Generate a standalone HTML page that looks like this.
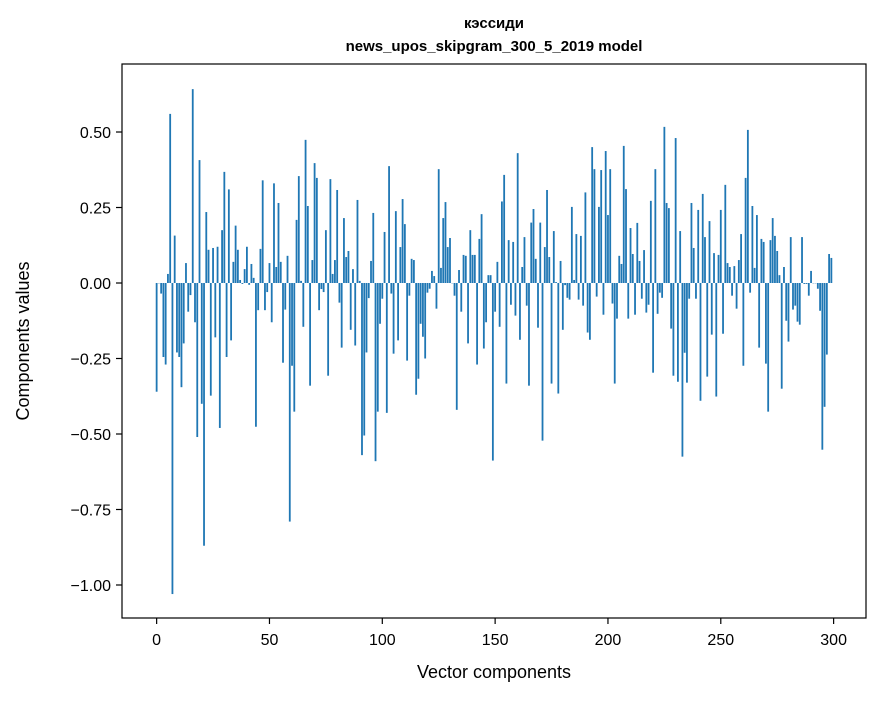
<!DOCTYPE html>
<html><head><meta charset="utf-8"><style>
body{margin:0;background:#fff;}
svg text{font-family:"Liberation Sans","DejaVu Sans",sans-serif;fill:#000;}
</style></head><body>
<svg id="chart" width="880" height="696" viewBox="0 0 880 696" xmlns="http://www.w3.org/2000/svg">
<rect width="880" height="696" fill="#fff"/>
<text x="494" y="28" text-anchor="middle" font-size="15" font-weight="bold">кэссиди</text>
<text x="494" y="51" text-anchor="middle" font-size="15" font-weight="bold">news_upos_skipgram_300_5_2019 model</text>
<g id="bars"></g>
<rect x="122" y="64" width="744" height="554" fill="none" stroke="#000" stroke-width="1.2"/>
<g id="xaxis"></g>
<g id="yaxis"></g>
<text x="494" y="678" text-anchor="middle" font-size="18">Vector components</text>
<text x="0" y="0" transform="translate(29,341) rotate(-90)" text-anchor="middle" font-size="18">Components values</text>
</svg>
<script>
const values = [
-0.36,0,-0.035,-0.245,-0.27,0.03,0.56,-1.03,0.157,-0.23,
-0.245,-0.345,-0.2,0.066,-0.095,-0.04,0.642,-0.13,-0.51,0.407,
-0.40,-0.87,0.235,0.11,-0.373,0.116,-0.18,0.12,-0.48,0.175,
0.368,-0.245,0.31,-0.19,0.07,0.19,0.11,0.01,-0.003,0.046,
0.12,-0.006,0.063,0.017,-0.476,-0.09,0.113,0.34,-0.09,-0.03,
0.066,-0.13,0.33,0.053,0.265,0.07,-0.264,-0.088,0.09,-0.79,
-0.274,-0.426,0.209,0.354,0.007,-0.145,0.474,0.255,-0.34,0.076,
0.397,0.348,-0.09,-0.02,-0.03,0.175,-0.307,0.344,0.03,0.076,
0.308,-0.065,-0.214,0.215,0.086,0.106,-0.155,0.046,-0.207,0.275,
0.007,-0.57,-0.505,-0.23,-0.05,0.073,0.232,-0.59,-0.426,-0.135,
-0.052,0.169,-0.43,0.387,-0.035,-0.234,0.238,-0.19,0.119,0.278,
0.195,-0.257,-0.042,0.08,0.076,-0.37,-0.317,-0.135,-0.178,-0.25,
-0.032,-0.019,0.04,0.023,-0.085,0.377,0.05,0.215,0.268,0.119,
0.149,0,-0.042,-0.42,0.043,-0.095,0.093,0.09,-0.2,0.175,
0.093,0.093,-0.27,0.146,0.228,-0.217,-0.13,0.026,0.026,-0.588,
-0.095,0.07,-0.145,0.27,0.358,-0.333,0.142,-0.072,0.136,-0.108,
0.43,-0.188,0.053,0.152,-0.075,-0.34,0.2,0.245,0.08,-0.148,
0.2,-0.522,0.119,0.308,0.086,-0.333,0.172,0.003,-0.366,0.073,
-0.155,-0.007,-0.049,-0.055,0.252,0.01,0.162,-0.055,0.156,-0.075,
0.3,-0.164,-0.188,0.45,0.377,-0.045,0.252,0.374,-0.105,0.437,
0.225,0.377,-0.068,-0.333,-0.118,0.09,0.063,0.454,0.311,-0.118,
0.182,0.096,-0.105,0.199,0.073,-0.052,0.109,-0.098,-0.072,0.272,
-0.297,0.377,-0.102,-0.032,-0.049,0.517,0.265,0.248,-0.151,-0.307,
0.48,-0.327,0.172,-0.575,-0.231,-0.33,-0.052,0.265,0.116,-0.052,
0.242,-0.39,0.295,0.152,-0.31,0.205,-0.171,0.099,-0.376,0.093,
0.242,-0.168,0.325,0.066,0.053,-0.042,0.056,-0.085,0.076,0.162,
-0.274,0.348,0.507,-0.032,0.255,0.05,0.225,-0.214,0.146,0.136,
-0.267,-0.426,0.142,0.215,0.156,0.106,0.026,-0.35,0.053,-0.125,
-0.194,0.152,-0.088,-0.075,-0.128,-0.138,0.152,-0.003,-0.003,-0.042,
0.04,0,0,-0.019,-0.092,-0.552,-0.41,-0.237,0.096,0.083
];
const xTicks = [0,50,100,150,200,250,300];
const yTicks = [0.5,0.25,0,-0.25,-0.5,-0.75,-1.0];
const yTickLabels = ["0.50","0.25","0.00","\u22120.25","\u22120.50","\u22120.75","\u22121.00"];

const X0=122,X1=866,XMIN=-15.35,XMAX=314.35;
const Y0=64,Y1=618,YMAX=0.7252,YMIN=-1.1093;
function xs(v){return X0+(v-XMIN)*(X1-X0)/(XMAX-XMIN);}
function ys(v){return Y0+(YMAX-v)*(Y1-Y0)/(YMAX-YMIN);}
const NS="http://www.w3.org/2000/svg";
const gb=document.getElementById('bars');
values.forEach((v,i)=>{
  const r=document.createElementNS(NS,'rect');
  const xa=xs(i-0.4),xb=xs(i+0.4);
  const ya=ys(Math.max(v,0)),yb=ys(Math.min(v,0));
  r.setAttribute('x',xa);r.setAttribute('width',xb-xa);
  r.setAttribute('y',ya);r.setAttribute('height',Math.max(yb-ya,0.3));
  r.setAttribute('fill','#1f77b4');
  
  
  gb.appendChild(r);
});
const gx=document.getElementById('xaxis');
xTicks.forEach(t=>{
  const x=xs(t);
  const l=document.createElementNS(NS,'line');
  l.setAttribute('x1',x);l.setAttribute('x2',x);l.setAttribute('y1',618);l.setAttribute('y2',624);
  l.setAttribute('stroke','#000');l.setAttribute('stroke-width','1.2');
  
  
  gx.appendChild(l);
  const tx=document.createElementNS(NS,'text');
  tx.setAttribute('x',x);tx.setAttribute('y',645);tx.setAttribute('text-anchor','middle');tx.setAttribute('font-size','16');
  tx.textContent=String(t);
  
  
  gx.appendChild(tx);
});
const gy=document.getElementById('yaxis');
yTicks.forEach((t,k)=>{
  const y=ys(t);
  const l=document.createElementNS(NS,'line');
  l.setAttribute('x1',116);l.setAttribute('x2',122);l.setAttribute('y1',y);l.setAttribute('y2',y);
  l.setAttribute('stroke','#000');l.setAttribute('stroke-width','1.2');
  
  
  gy.appendChild(l);
  const tx=document.createElementNS(NS,'text');
  tx.setAttribute('x',111);tx.setAttribute('y',y+6);tx.setAttribute('text-anchor','end');tx.setAttribute('font-size','16');
  tx.textContent=yTickLabels[k];
  
  
  gy.appendChild(tx);
});
</script>
</body></html>
